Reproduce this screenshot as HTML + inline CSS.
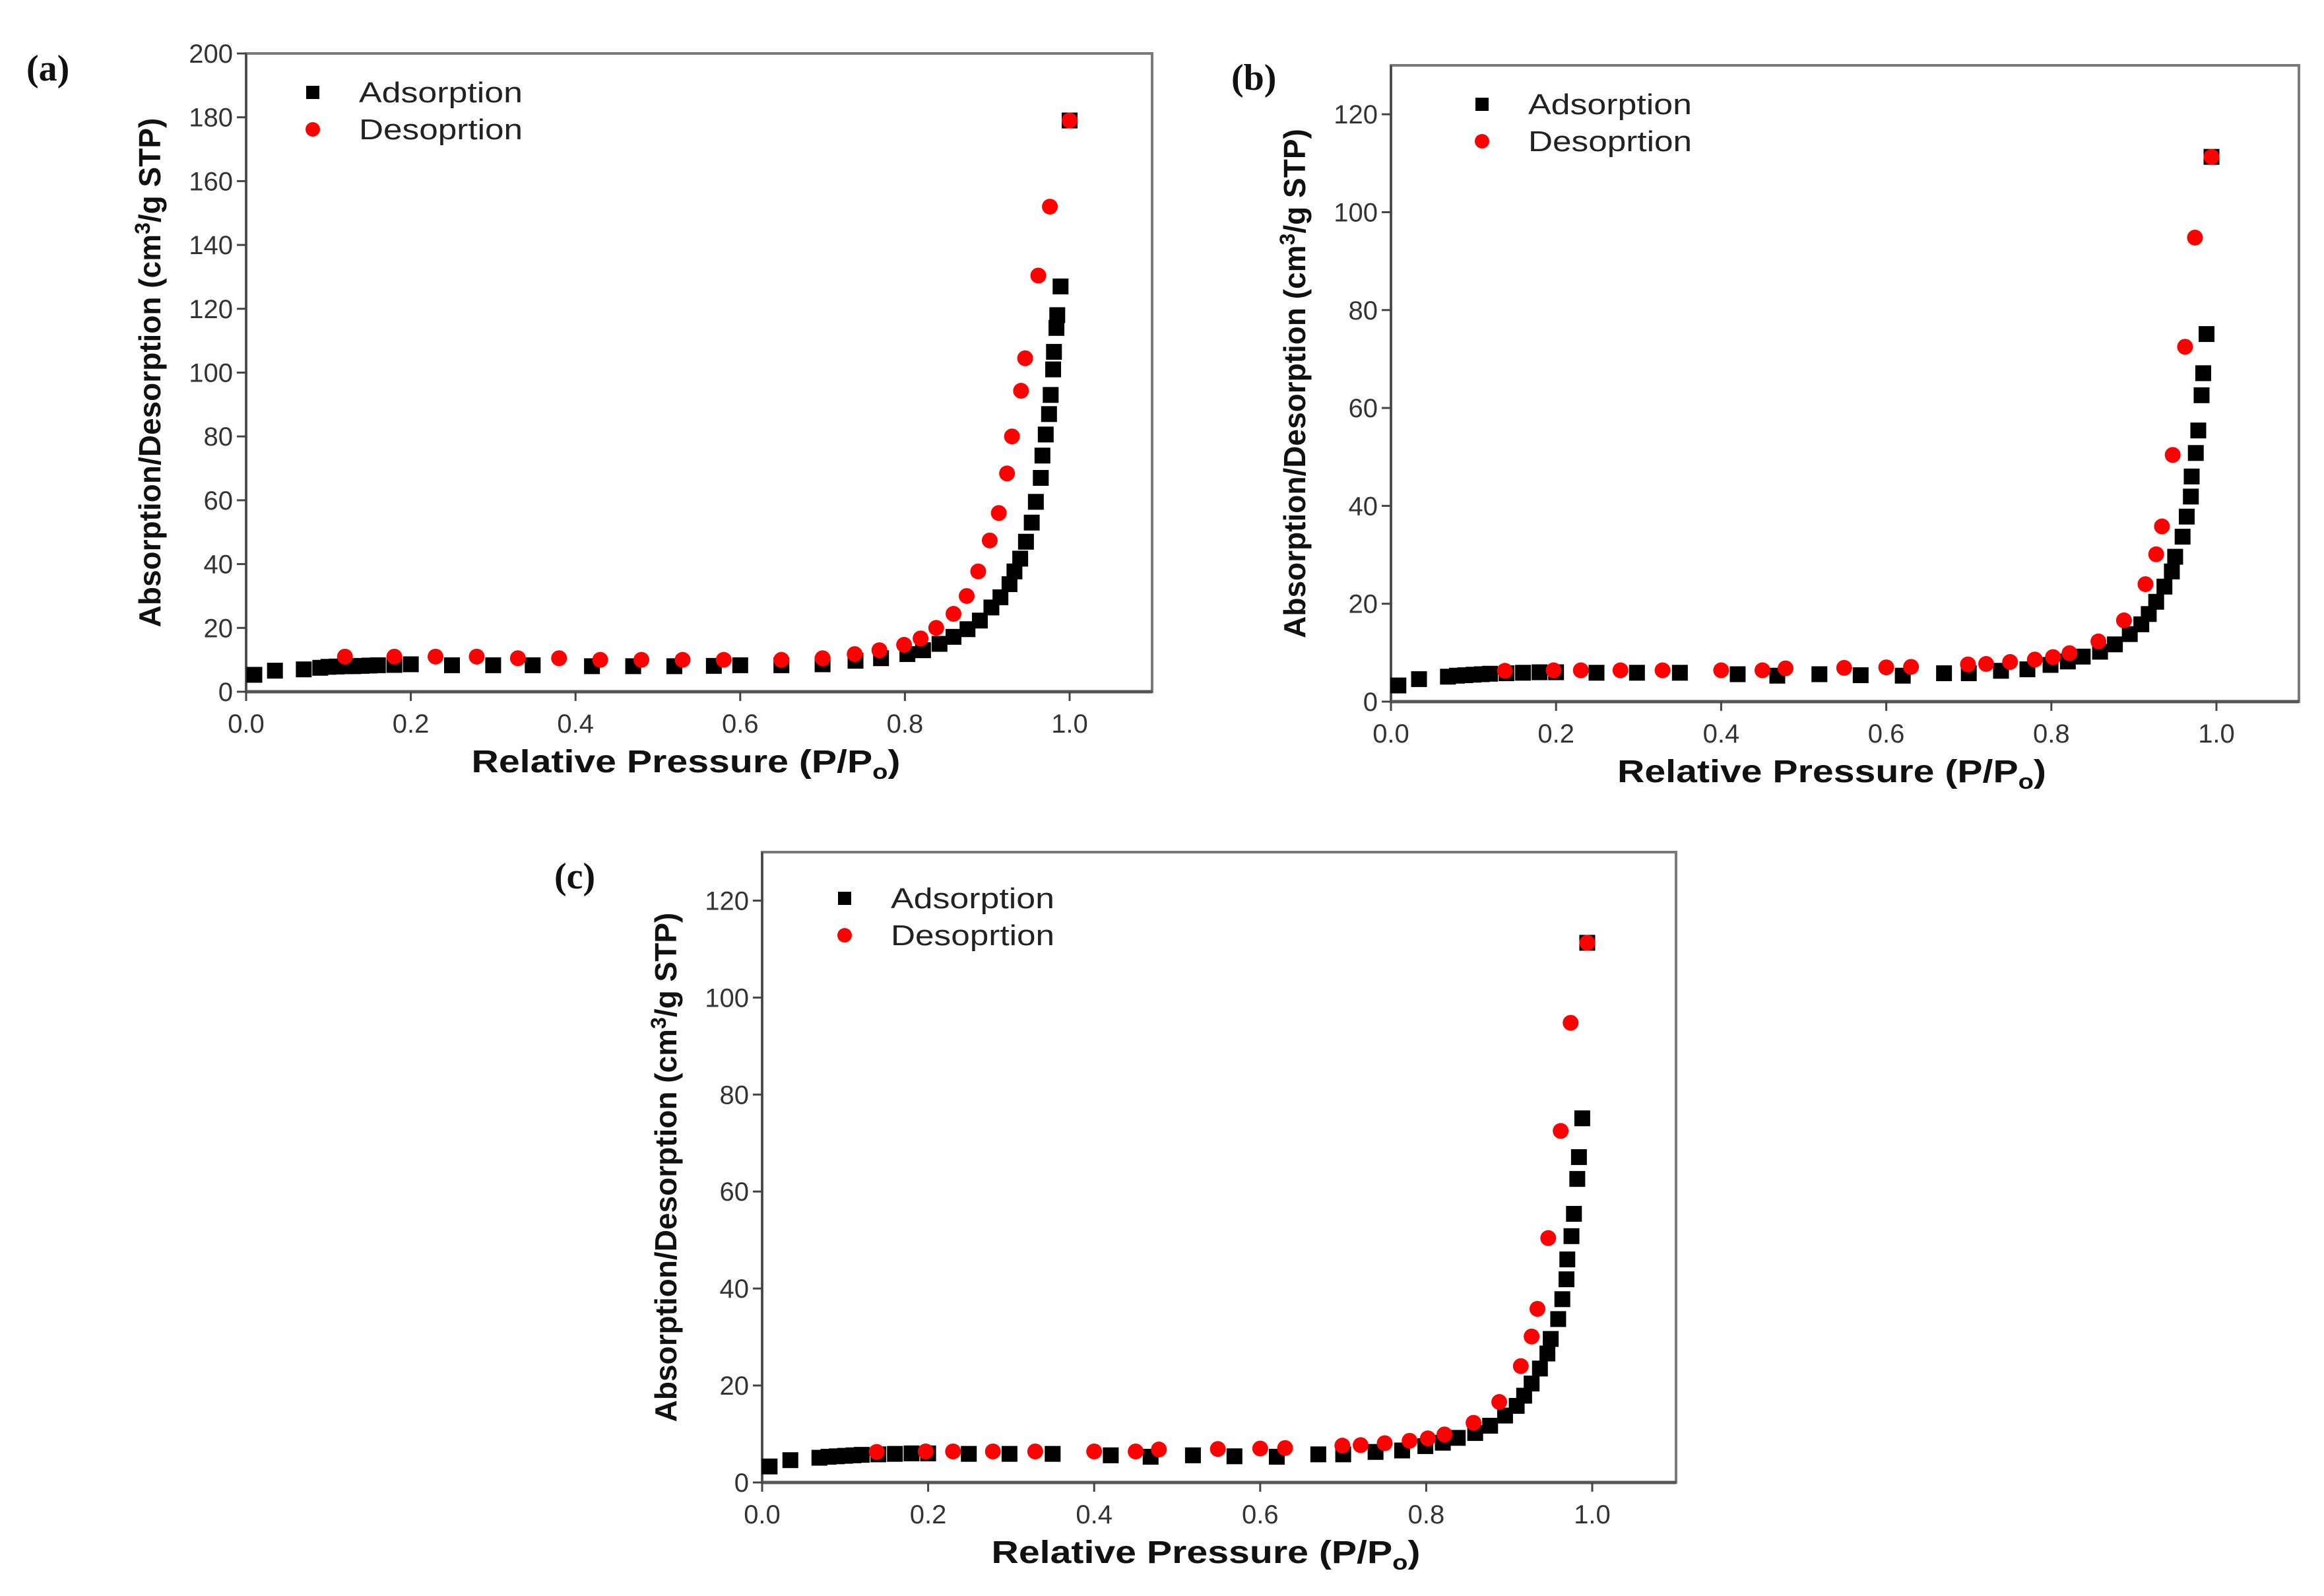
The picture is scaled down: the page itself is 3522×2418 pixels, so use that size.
<!DOCTYPE html>
<html><head><meta charset="utf-8">
<style>
html,body{margin:0;padding:0;background:#fff;}
svg{display:block;}
</style></head>
<body>
<svg id="fig" xmlns="http://www.w3.org/2000/svg" width="3522" height="2418" viewBox="0 0 3522 2418"></svg>
<script>
// ---- data ----
const adsXA = [0.01,0.035,0.07,0.09,0.10,0.11,0.12,0.13,0.14,0.15,0.16,0.18,0.20,0.25,0.30,0.348,0.42,0.47,0.52,0.568,0.60,0.65,0.70,0.74,0.771,0.803,0.822,0.842,0.859,0.876,0.891,0.905,0.916,0.927,0.933,0.94,0.947,0.954,0.959,0.965,0.967,0.971,0.975,0.977,0.98,0.981,0.984,0.985,0.989,1.0];
const adsYA = [5.3,6.6,7,7.5,7.8,7.9,8,8,8.1,8.2,8.3,8.4,8.6,8.3,8.3,8.3,8,8,8,8.1,8.3,8.3,8.6,9.7,10.5,11.8,13,15,17.2,19.6,22.3,26.4,29.6,33.7,37.7,41.7,47,53,59.5,67,74,80.6,87,93,101,106.5,114,118,127,179];
const desXA = [0.12,0.18,0.23,0.28,0.33,0.38,0.43,0.48,0.53,0.58,0.65,0.70,0.739,0.769,0.799,0.819,0.838,0.859,0.875,0.889,0.903,0.914,0.924,0.93,0.941,0.946,0.962,0.976,1.0];
const desYA = [11,11,11,11,10.5,10.5,10,10,10,10,10,10.5,11.8,13,14.7,16.7,20,24.4,30,37.7,47.4,56,68.4,80,94.3,104.5,130.4,152,179];

const adsXC = [0.009,0.034,0.069,0.08,0.09,0.10,0.11,0.12,0.14,0.16,0.18,0.20,0.249,0.298,0.35,0.42,0.468,0.519,0.569,0.62,0.67,0.70,0.739,0.771,0.799,0.82,0.838,0.859,0.877,0.895,0.909,0.918,0.927,0.937,0.946,0.95,0.959,0.964,0.969,0.97,0.975,0.978,0.982,0.984,0.988,0.994];
const adsYC = [3.3,4.6,5.1,5.3,5.4,5.5,5.6,5.7,5.8,5.9,6,6,5.9,5.9,5.9,5.6,5.3,5.6,5.4,5.3,5.8,5.8,6.3,6.6,7.5,8.2,9.2,10.2,11.7,13.8,15.8,17.9,20.4,23.5,26.6,29.6,33.7,37.8,41.9,46,50.8,55.4,62.6,67.1,75.1,111.3];
const desXC = [0.138,0.197,0.23,0.278,0.329,0.40,0.45,0.478,0.549,0.60,0.63,0.699,0.721,0.75,0.78,0.802,0.822,0.857,0.888,0.914,0.927,0.934,0.947,0.962,0.974,0.994];
const desYC = [6.3,6.4,6.4,6.4,6.4,6.4,6.4,6.8,6.9,7,7.1,7.6,7.7,8.1,8.6,9.1,9.9,12.3,16.6,24,30.1,35.8,50.4,72.5,94.8,111.3];

const xTicks = ["0.0","0.2","0.4","0.6","0.8","1.0"];
const yTicksA = ["0","20","40","60","80","100","120","140","160","180","200"];
const yTicksBC = ["0","20","40","60","80","100","120"];

const NS = "http://www.w3.org/2000/svg";
const svg = document.getElementById('fig');
function mk(tag, attrs, parent, text){
  const e = document.createElementNS(NS, tag);
  for (const k in attrs) e.setAttribute(k, attrs[k]);
  if (text !== undefined) e.textContent = text;
  (parent||svg).appendChild(e);
  return e;
}

function panel(id, label, box, ymax, yTicks, ax, ay, dx, dy, labelPos, legendPos){
  const g = mk('g', {});
  
  
  const x0 = box.x0, x1 = box.x1, xAt1 = box.xAt1, yTop = box.yTop, yBot = box.yBot;
  const sx = v => x0 + v * (xAt1 - x0);
  const sy = v => yBot - v / ymax * (yBot - yTop);

  const fr = mk('rect', {x:x0, y:yTop, width:x1-x0, height:yBot-yTop, fill:'none', stroke:'#7a7a7a', 'stroke-width':4}, g);
  
  
  mk('line', {x1:x0, y1:yTop, x2:x0, y2:yBot, stroke:'#444', 'stroke-width':3}, g);
  mk('line', {x1:x0, y1:yBot, x2:x1, y2:yBot, stroke:'#555', 'stroke-width':5}, g);

  xTicks.forEach(t => {
    const v = parseFloat(t);
    mk('line', {x1:sx(v), y1:yBot, x2:sx(v), y2:yBot+14, stroke:'#444', 'stroke-width':3}, g);
    const tl = mk('text', {x:sx(v), y:yBot+62, 'text-anchor':'middle', 'font-size':40, fill:'#333', 'font-family':'Liberation Sans, sans-serif'}, g, t);
    
    
  });
  yTicks.forEach(t => {
    const v = parseFloat(t);
    mk('line', {x1:x0-14, y1:sy(v), x2:x0, y2:sy(v), stroke:'#444', 'stroke-width':3}, g);
    const tl = mk('text', {x:x0-20, y:sy(v)+14, 'text-anchor':'end', 'font-size':40, fill:'#333', 'font-family':'Liberation Sans, sans-serif'}, g, t);
    
    
  });

  const xt = mk('text', {x:(x0+x1)/2 - 20, y:yBot+122, 'text-anchor':'middle', 'font-size':48, 'font-weight':'bold', fill:'#111', 'font-family':'Liberation Sans, sans-serif', textLength:650, lengthAdjust:'spacingAndGlyphs'}, g);
  
  
  xt.appendChild(document.createTextNode('Relative Pressure (P/P'));
  mk('tspan', {'font-size':32, dy:10}, xt, 'o');
  mk('tspan', {dy:-10}, xt, ')');

  const ycx = x0 - 130, ycy = (yTop + yBot)/2;
  const yt = mk('text', {x:ycx, y:ycy, 'text-anchor':'middle', 'font-size':46, 'font-weight':'bold', fill:'#111', 'font-family':'Liberation Sans, sans-serif', transform:`rotate(-90 ${ycx} ${ycy})`}, g);
  
  
  yt.appendChild(document.createTextNode('Absorption/Desorption (cm'));
  mk('tspan', {'font-size':32, dy:-16}, yt, '3');
  mk('tspan', {dy:16}, yt, '/g STP)');

  const pl = mk('text', {x:labelPos[0], y:labelPos[1], 'font-size':56, 'font-weight':'bold', fill:'#111', 'font-family':'Liberation Serif, serif'}, g, label);
  
  

  const sa = mk('g', {}, g);
  
  
  ax.forEach((v, i) => {
    const r = mk('rect', {x:sx(v)-12, y:sy(ay[i])-12, width:24, height:24, fill:'#000'}, sa);
    
    
  });
  const sd = mk('g', {}, g);
  
  
  dx.forEach((v, i) => {
    const c = mk('circle', {cx:sx(v), cy:sy(dy[i]), r:12, fill:'#ff0000'}, sd);
    
    
  });

  const lg = mk('g', {}, g);
  
  
  const [lx, ly] = legendPos;
  const l1 = mk('g', {}, lg);
  
  
  mk('rect', {x:lx-10, y:ly-10, width:20, height:20, fill:'#000'}, l1);
  mk('text', {x:lx+70, y:ly+15, 'font-size':44, fill:'#222', 'font-family':'Liberation Sans, sans-serif', textLength:248, lengthAdjust:'spacingAndGlyphs'}, l1, 'Adsorption');
  const l2 = mk('g', {}, lg);
  
  
  mk('circle', {cx:lx, cy:ly+56, r:11, fill:'#ff0000'}, l2);
  mk('text', {x:lx+70, y:ly+71, 'font-size':44, fill:'#222', 'font-family':'Liberation Sans, sans-serif', textLength:248, lengthAdjust:'spacingAndGlyphs'}, l2, 'Desoprtion');
}

panel('a', '(a)', {x0:373, x1:1746, xAt1:1621, yTop:81, yBot:1048}, 200, yTicksA, adsXA, adsYA, desXA, desYA, [40,122], [474,140]);
panel('b', '(b)', {x0:2108, x1:3484, xAt1:3359, yTop:99, yBot:1063}, 130, yTicksBC, adsXC, adsYC, desXC, desYC, [1866,136], [2246,158]);
panel('c', '(c)', {x0:1155, x1:2540, xAt1:2413, yTop:1291, yBot:2246}, 130, yTicksBC, adsXC, adsYC, desXC, desYC, [840,1346], [1280,1361]);
</script>
</body></html>
